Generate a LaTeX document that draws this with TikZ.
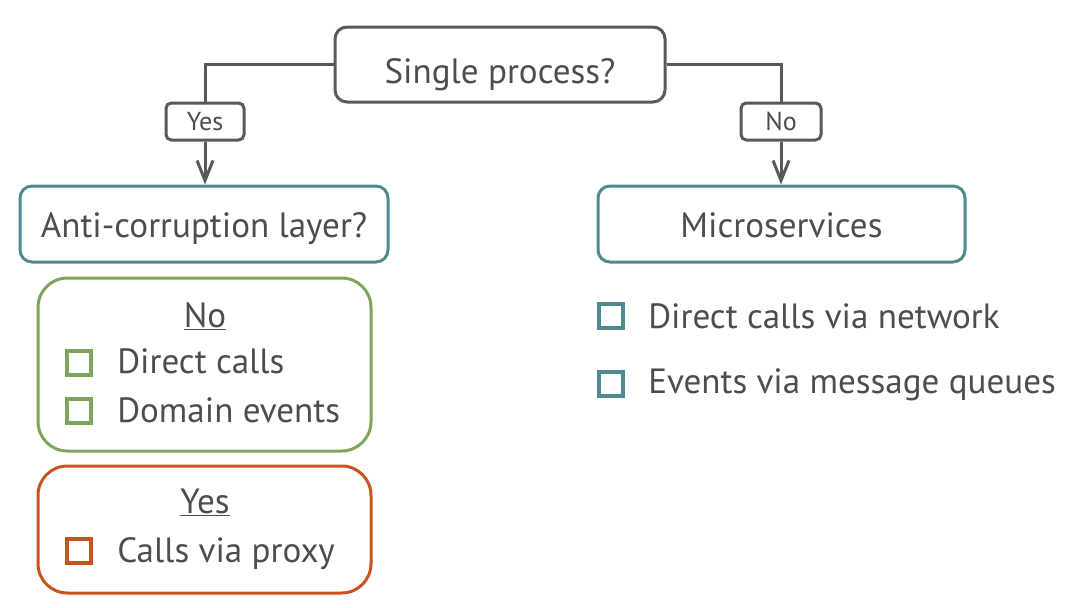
\documentclass[tikz,border=0pt]{standalone}
\usepackage{fontspec}
\setmainfont{PT Sans}
\usepackage{tikz}
\usetikzlibrary{arrows.meta}

\definecolor{linegray}{HTML}{595959}
\definecolor{textgray}{HTML}{4D4D4D}
\definecolor{tealline}{HTML}{4E8A8F}
\definecolor{greenline}{HTML}{7EA55A}
\definecolor{orangeline}{HTML}{C8531F}

\tikzset{
  question/.style={draw=#1, line width=2.25pt, rounded corners=9pt, text=textgray,
    inner sep=0pt},
  answer/.style={draw=linegray, line width=2.25pt, rounded corners=4pt, text=textgray,
    fill=white, inner sep=0pt, minimum height=27.75pt},
  group/.style={draw=#1, line width=2.25pt, rounded corners=22pt, minimum width=249.75pt},
  tick/.style={draw=#1, line width=3pt, minimum size=18pt, inner sep=0pt},
  item/.style={anchor=base west, text=textgray, font=\fontsize{26.3}{30}\selectfont, inner sep=0pt},
  small/.style={anchor=base, text=textgray, font=\fontsize{19.5}{23}\selectfont, inner sep=0pt},
  conn/.style={draw=linegray, line width=2.25pt},
}

\begin{document}
\begin{tikzpicture}[x=0.75pt, y=-0.75pt]
\useasboundingbox (0,0) rectangle (1074,607);
% Question at the top
  \node[question=linegray, minimum width=247.5pt, minimum height=56.25pt] (single) at (500,64.5) {};
  \node[item, anchor=base] (singletxt) at (500,83) {Single process?};
% Answers on the branches
  \node[answer, minimum width=58.5pt] (yes) at (205,121.5) {};
  \node[small] (yestxt) at (205,130) {Yes};
  \node[answer, minimum width=60pt] (no) at (781,121.5) {};
  \node[small] (notxt) at (781,130) {No};
% Second level
  \node[question=tealline, minimum width=276pt, minimum height=57pt] (acl) at (204,224) {};
  \node[item, anchor=base] (acltxt) at (204,237) {Anti-corruption layer?};
  \node[question=tealline, minimum width=275.25pt, minimum height=57pt] (micro) at (781.5,224) {};
  \node[item, anchor=base] (microtxt) at (781.5,237) {Microservices};
% Connectors
  \draw[conn] (single.west) -| (yes.north);
  \draw[conn, -{Straight Barb[length=15pt, width=12pt]}] (yes.south) -- (yes.south |- acl.north);
  \draw[conn] (single.east) -| (no.north);
  \draw[conn, -{Straight Barb[length=15pt, width=12pt]}] (no.south) -- (no.south |- micro.north);
% Without anti-corruption layer
  \node[group=greenline, minimum height=129.75pt] (nogroup) at (204.5,364.5) {};
  \node[item, anchor=base] (nohead) at (205,327) {\underline{No}};
  \node[tick=greenline] (nobox1) at (79,362.5) {};
  \node[item] (noitem1) at (117,373) {Direct calls};
  \node[tick=greenline] (nobox2) at (79,410.5) {};
  \node[item] (noitem2) at (117,422) {Domain events};
% With anti-corruption layer
  \node[group=orangeline, minimum height=95.25pt] (yesgroup) at (204.5,529.5) {};
  \node[item, anchor=base] (yeshead) at (205,513) {\underline{Yes}};
  \node[tick=orangeline] (yesbox1) at (79,550.5) {};
  \node[item] (yesitem1) at (117,562) {Calls via proxy};
% Microservices
  \node[tick=tealline] (microbox1) at (611,316) {};
  \node[item] (microitem1) at (648,328) {Direct calls via network};
  \node[tick=tealline] (microbox2) at (611,384) {};
  \node[item] (microitem2) at (648,393) {Events via message queues};
\end{tikzpicture}
\end{document}
